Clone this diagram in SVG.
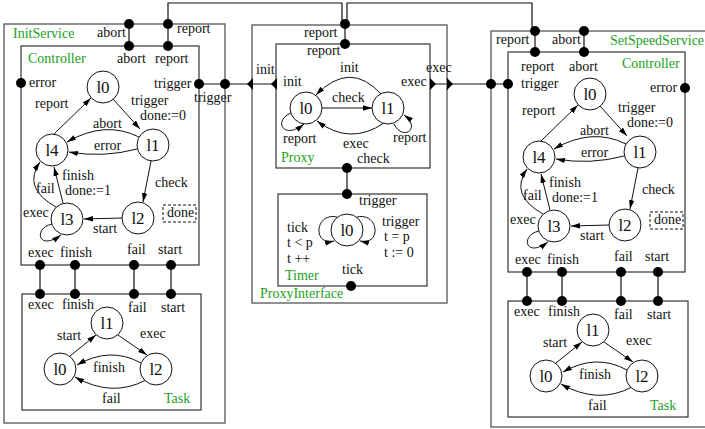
<svg xmlns="http://www.w3.org/2000/svg" width="705" height="429" viewBox="0 0 705 429" font-family="'Liberation Serif', 'Times New Roman', serif">
<defs>
<style>
text{font-family:'Liberation Serif','Times New Roman',serif;font-size:14px;fill:#111}
.g{fill:#1ca01c}
.st{font-size:17px;text-anchor:middle}
.box{fill:none;stroke:#555;stroke-width:1.3}
.ibox{fill:none;stroke:#333;stroke-width:1.2}
.c{fill:#fff;stroke:#111;stroke-width:1}
.t{fill:none;stroke:#111;stroke-width:1;marker-end:url(#ah)}
.w{fill:none;stroke:#111;stroke-width:1.2}
.p{fill:#000}
.d{fill:none;stroke:#111;stroke-width:1;stroke-dasharray:3,2}
</style>
<marker id="ah" viewBox="0 0 10 6" refX="10" refY="3" markerWidth="9" markerHeight="6" markerUnits="userSpaceOnUse" orient="auto"><path d="M0,0 L10,3 L0,6 z" fill="#000"/></marker>
</defs>
<rect width="705" height="429" fill="#fff"/>

<!-- connectors -->
<g id="connectors">
<path class="w" d="M168,24 V3 H342 V24"/>
<path class="w" d="M347,24 V3 H532 V31"/>
<path class="w" d="M129,24 V46 M168,24 V46"/>
<path class="w" d="M345,24 V44"/>
<path class="w" d="M535,31 V52 M584,31 V52"/>
<path class="w" d="M199,84 H276"/>
<path class="w" d="M430,84 H508"/>
<path class="w" d="M347,168 V194"/>
<path class="w" d="M40,265 V294 M75,265 V294 M134,265 V294 M171,265 V294"/>
<path class="w" d="M527,272 V301 M562,272 V301 M621,272 V301 M658,272 V301"/>
</g>

<!-- InitService -->
<g id="InitService">
<rect class="box" x="4" y="24" width="221" height="399"/>
<text class="g" x="13" y="38">InitService</text>
<text x="97" y="37">abort</text>
<text x="177" y="33">report</text>
<text x="194" y="102">trigger</text>
<circle class="p" cx="129" cy="24" r="5"/>
<circle class="p" cx="168" cy="24" r="5"/>
<circle class="p" cx="225" cy="84" r="5"/>
</g>

<g id="InitService-Controller">
<rect class="ibox" x="21" y="46" width="178" height="219"/>
<text class="g" x="28" y="63">Controller</text>
<text x="117" y="63">abort</text>
<text x="155" y="63">report</text>
<text x="29" y="87">error</text>
<text x="154" y="88">trigger</text>
<circle class="p" cx="21" cy="83" r="5"/>
<circle class="p" cx="129" cy="46" r="5"/>
<circle class="p" cx="168" cy="46" r="5"/>
<circle class="p" cx="199" cy="84" r="5"/>
<circle class="p" cx="40" cy="265" r="5"/>
<circle class="p" cx="75" cy="265" r="5"/>
<circle class="p" cx="134" cy="265" r="5"/>
<circle class="p" cx="171" cy="265" r="5"/>
<g id="ctrl-machine-1">
<path class="t" d="M54,134 L91,98"/>
<path class="t" d="M113,99 L140,129"/>
<path class="t" d="M139,137 Q105,120 67,142"/>
<path class="t" d="M137,149 Q103,158 69,152"/>
<path class="t" d="M151,161 L143,202"/>
<path class="t" d="M122,218 L84,219"/>
<path class="t" d="M63,203 L54,167"/>
<path class="t" d="M56,207 Q22,188 40,162"/>
<path class="t" d="M52,224 C33,228 38,252 61,235"/>
<circle class="c" cx="103" cy="87" r="16"/><text class="st" x="103" y="93">l0</text>
<circle class="c" cx="153" cy="145" r="16"/><text class="st" x="153" y="151">l1</text>
<circle class="c" cx="138" cy="218" r="16"/><text class="st" x="138" y="224">l2</text>
<circle class="c" cx="67" cy="219" r="16"/><text class="st" x="67" y="225">l3</text>
<circle class="c" cx="52" cy="150" r="16"/><text class="st" x="52" y="156">l4</text>
<text x="35" y="108">report</text>
<text x="131" y="105">trigger</text>
<text x="140" y="120">done:=0</text>
<text x="93" y="128">abort</text>
<text x="94" y="150">error</text>
<text x="155" y="187">check</text>
<text x="62" y="180">finish</text>
<text x="65" y="195">done:=1</text>
<text x="36" y="193">fail</text>
<text x="23" y="217">exec</text>
<text x="93" y="233">start</text>
<rect class="d" x="163" y="205" width="33" height="17"/>
<text x="167" y="217">done</text>
<text x="28" y="257">exec</text>
<text x="60" y="257">finish</text>
<text x="127" y="254">fail</text>
<text x="158" y="254">start</text>
</g>
</g>

<g id="InitService-Task">
<rect class="ibox" x="22" y="294" width="179" height="116"/>
<circle class="p" cx="40" cy="294" r="5"/>
<circle class="p" cx="75" cy="294" r="5"/>
<circle class="p" cx="134" cy="294" r="5"/>
<circle class="p" cx="171" cy="294" r="5"/>
<g id="task-machine-1">
<path class="t" d="M70,356 L96,335"/>
<path class="t" d="M118,335 L147,355"/>
<path class="t" d="M141,363 Q110,346 77,365"/>
<path class="t" d="M146,380 Q112,398 75,377"/>
<circle class="c" cx="107" cy="323" r="16"/><text class="st" x="107" y="329">l1</text>
<circle class="c" cx="60" cy="369" r="16"/><text class="st" x="60" y="375">l0</text>
<circle class="c" cx="156" cy="369" r="16"/><text class="st" x="156" y="375">l2</text>
<text x="28" y="309">exec</text>
<text x="62" y="309">finish</text>
<text x="128" y="312">fail</text>
<text x="161" y="312">start</text>
<text x="57" y="340">start</text>
<text x="140" y="338">exec</text>
<text x="93" y="372">finish</text>
<text x="102" y="403">fail</text>
<text class="g" x="164" y="403">Task</text>
</g>
</g>

<!-- ProxyInterface -->
<g id="ProxyInterface">
<rect class="box" x="252" y="25" width="195" height="278"/>
<text class="g" x="260" y="298">ProxyInterface</text>
<text x="304" y="37">report</text>
<text x="256" y="74">init</text>
<text x="426" y="72">exec</text>
<circle class="p" cx="345" cy="24" r="5"/>
<path class="p" d="M247,84 L253,78 L253,90 z"/>
<path class="p" d="M453,84 L447,78 L447,90 z"/>
</g>

<g id="Proxy">
<rect class="ibox" x="276" y="44" width="154" height="124"/>
<text class="g" x="281" y="162">Proxy</text>
<text x="307" y="55">report</text>
<text x="283" y="86">init</text>
<text x="401" y="86">exec</text>
<text x="357" y="163">check</text>
<circle class="p" cx="345" cy="44" r="5"/>
<circle class="p" cx="347" cy="168" r="5"/>
<path class="p" d="M271,84 L277,78 L277,90 z"/>
<path class="p" d="M436,84 L430,78 L430,90 z"/>
<path class="t" d="M381,94 Q350,60 316,95"/>
<path class="t" d="M322,108 L372,108"/>
<path class="t" d="M384,123 Q350,146 317,121"/>
<path class="t" d="M291,113 C273,120 283,141 304,124"/>
<path class="t" d="M394,124 C403,142 422,128 404,115"/>
<circle class="c" cx="306" cy="108" r="16"/><text class="st" x="306" y="114">l0</text>
<circle class="c" cx="388" cy="108" r="16"/><text class="st" x="388" y="114">l1</text>
<text x="340" y="72">init</text>
<text x="332" y="102">check</text>
<text x="283" y="143">report</text>
<text x="393" y="142">report</text>
<text x="343" y="148">exec</text>
</g>

<g id="Timer">
<rect class="ibox" x="278" y="194" width="149" height="92"/>
<text class="g" x="285" y="280">Timer</text>
<text x="359" y="205">trigger</text>
<text x="342" y="274">tick</text>
<circle class="p" cx="347" cy="194" r="5"/>
<circle class="p" cx="351" cy="286" r="5"/>
<path class="t" d="M337,217 C315,212 312,246 334,241"/>
<path class="t" d="M357,217 C379,212 382,246 360,241"/>
<circle class="c" cx="347" cy="230" r="16"/><text class="st" x="347" y="236">l0</text>
<text x="287" y="232">tick</text>
<text x="287" y="247">t &lt; p</text>
<text x="287" y="263">t ++</text>
<text x="382" y="226">trigger</text>
<text x="384" y="241">t = p</text>
<text x="384" y="257">t := 0</text>
</g>

<!-- SetSpeedService -->
<g id="SetSpeedService">
<rect class="box" x="491" y="31" width="230" height="396"/>
<text class="g" x="610" y="45">SetSpeedService</text>
<text x="496" y="44">report</text>
<text x="552" y="44">abort</text>
<circle class="p" cx="535" cy="31" r="5"/>
<circle class="p" cx="584" cy="31" r="5"/>
<circle class="p" cx="491" cy="84" r="5"/>
</g>

<g id="SetSpeedService-Controller">
<rect class="ibox" x="508" y="52" width="177" height="220"/>
<text class="g" x="622" y="68">Controller</text>
<text x="521" y="71">report</text>
<text x="569" y="71">abort</text>
<text x="521" y="88">trigger</text>
<text x="650" y="92">error</text>
<circle class="p" cx="535" cy="52" r="5"/>
<circle class="p" cx="584" cy="52" r="5"/>
<circle class="p" cx="508" cy="84" r="5"/>
<circle class="p" cx="685" cy="88" r="5"/>
<circle class="p" cx="527" cy="272" r="5"/>
<circle class="p" cx="562" cy="272" r="5"/>
<circle class="p" cx="621" cy="272" r="5"/>
<circle class="p" cx="658" cy="272" r="5"/>
<g id="ctrl-machine-2" transform="translate(487,7)">
<path class="t" d="M54,134 L91,98"/>
<path class="t" d="M113,99 L140,129"/>
<path class="t" d="M139,137 Q105,120 67,142"/>
<path class="t" d="M137,149 Q103,158 69,152"/>
<path class="t" d="M151,161 L143,202"/>
<path class="t" d="M122,218 L84,219"/>
<path class="t" d="M63,203 L54,167"/>
<path class="t" d="M56,207 Q22,188 40,162"/>
<path class="t" d="M52,224 C33,228 38,252 61,235"/>
<circle class="c" cx="103" cy="87" r="16"/><text class="st" x="103" y="93">l0</text>
<circle class="c" cx="153" cy="145" r="16"/><text class="st" x="153" y="151">l1</text>
<circle class="c" cx="138" cy="218" r="16"/><text class="st" x="138" y="224">l2</text>
<circle class="c" cx="67" cy="219" r="16"/><text class="st" x="67" y="225">l3</text>
<circle class="c" cx="52" cy="150" r="16"/><text class="st" x="52" y="156">l4</text>
<text x="35" y="108">report</text>
<text x="131" y="105">trigger</text>
<text x="140" y="120">done:=0</text>
<text x="93" y="128">abort</text>
<text x="94" y="150">error</text>
<text x="155" y="187">check</text>
<text x="62" y="180">finish</text>
<text x="65" y="195">done:=1</text>
<text x="36" y="193">fail</text>
<text x="23" y="217">exec</text>
<text x="93" y="233">start</text>
<rect class="d" x="163" y="205" width="33" height="17"/>
<text x="167" y="217">done</text>
<text x="28" y="257">exec</text>
<text x="60" y="257">finish</text>
<text x="127" y="254">fail</text>
<text x="158" y="254">start</text>
</g>
</g>

<g id="SetSpeedService-Task">
<rect class="ibox" x="508" y="301" width="180" height="116"/>
<circle class="p" cx="527" cy="301" r="5"/>
<circle class="p" cx="562" cy="301" r="5"/>
<circle class="p" cx="621" cy="301" r="5"/>
<circle class="p" cx="658" cy="301" r="5"/>
<g id="task-machine-2" transform="translate(486,7)">
<path class="t" d="M70,356 L96,335"/>
<path class="t" d="M118,335 L147,355"/>
<path class="t" d="M141,363 Q110,346 77,365"/>
<path class="t" d="M146,380 Q112,398 75,377"/>
<circle class="c" cx="107" cy="323" r="16"/><text class="st" x="107" y="329">l1</text>
<circle class="c" cx="60" cy="369" r="16"/><text class="st" x="60" y="375">l0</text>
<circle class="c" cx="156" cy="369" r="16"/><text class="st" x="156" y="375">l2</text>
<text x="28" y="309">exec</text>
<text x="62" y="309">finish</text>
<text x="128" y="312">fail</text>
<text x="161" y="312">start</text>
<text x="57" y="340">start</text>
<text x="140" y="338">exec</text>
<text x="93" y="372">finish</text>
<text x="102" y="403">fail</text>
<text class="g" x="164" y="403">Task</text>
</g>
</g>
</svg>
